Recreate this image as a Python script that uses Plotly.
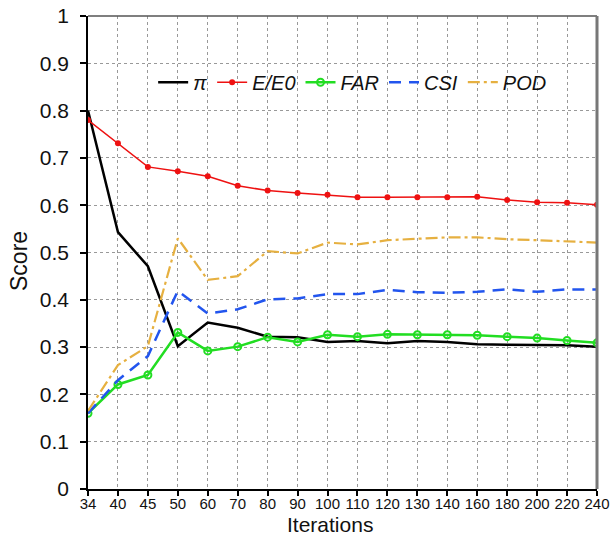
import plotly.graph_objects as go

categories = ["34", "40", "45", "50", "60", "70", "80", "90", "100", "110",
              "120", "130", "140", "160", "180", "200", "220", "240"]
pi_vals = [0.800, 0.543, 0.471, 0.302, 0.352, 0.341, 0.322, 0.321, 0.311, 0.313,
           0.308, 0.313, 0.311, 0.306, 0.305, 0.304, 0.304, 0.301]
ee0_vals = [0.780, 0.731, 0.681, 0.672, 0.661, 0.641, 0.631, 0.626, 0.622, 0.617,
            0.617, 0.617, 0.617, 0.618, 0.611, 0.606, 0.605, 0.601]
far_vals = [0.160, 0.221, 0.241, 0.331, 0.292, 0.301, 0.321, 0.311, 0.326, 0.322,
            0.327, 0.326, 0.326, 0.325, 0.322, 0.319, 0.314, 0.309]
csi_vals = [0.160, 0.230, 0.281, 0.419, 0.371, 0.380, 0.401, 0.403, 0.412, 0.412,
            0.421, 0.416, 0.415, 0.417, 0.422, 0.417, 0.422, 0.422]
pod_vals = [0.165, 0.262, 0.302, 0.530, 0.442, 0.450, 0.503, 0.498, 0.521, 0.517,
            0.526, 0.529, 0.532, 0.532, 0.528, 0.526, 0.523, 0.521]

FONT = "'Liberation Sans', Arial, sans-serif"

fig = go.Figure()
fig.add_trace(go.Scatter(x=categories, y=pi_vals, name="π", mode="lines",
                         line=dict(color="black", width=2.5)))
fig.add_trace(go.Scatter(x=categories, y=ee0_vals, name="E/E0", mode="lines+markers",
                         line=dict(color="#ee1111", width=1.5),
                         marker=dict(symbol="circle", size=6, color="#ee1111")))
fig.add_trace(go.Scatter(x=categories, y=far_vals, name="FAR", mode="lines+markers",
                         line=dict(color="#22dd22", width=2.5),
                         marker=dict(symbol="circle-open", size=7, color="#22dd22",
                                     line=dict(width=2))))
fig.add_trace(go.Scatter(x=categories, y=csi_vals, name="CSI", mode="lines",
                         line=dict(color="#2255ee", width=2.5, dash="12px,8px")))
fig.add_trace(go.Scatter(x=categories, y=pod_vals, name="POD", mode="lines",
                         line=dict(color="#e6b040", width=2.2, dash="12px,4px,3px,4px")))

fig.update_layout(
    width=613, height=536,
    margin=dict(l=88, r=16, t=16, b=47),
    paper_bgcolor="white", plot_bgcolor="white",
    font=dict(family=FONT, color="#111"),
    showlegend=True,
    legend=dict(orientation="h", x=0.128, y=0.86, xanchor="left", yanchor="middle",
                bgcolor="rgba(0,0,0,0)",
                font=dict(size=20, family=FONT, style="italic"),
                itemwidth=30, tracegroupgap=0),
    xaxis=dict(type="category", range=[0, 17], showgrid=True, gridcolor="#999",
               griddash="dot", gridwidth=1, showline=True, linecolor="black", linewidth=1.5,
               ticks="outside", ticklen=5, tickcolor="black", tickwidth=1.5,
               tickfont=dict(size=15), zeroline=False, automargin=False,
               ticklabelstandoff=-5),
    yaxis=dict(range=[0, 1], dtick=0.1, tick0=0, showgrid=True, gridcolor="#999",
               griddash="dot", gridwidth=1, showline=True, linecolor="black", linewidth=1.5,
               ticks="outside", ticklen=6, tickcolor="black", tickwidth=1.5,
               tickfont=dict(size=21), zeroline=False, automargin=False,
               ticklabelstandoff=7),
    shapes=[
        dict(type="line", xref="x domain", yref="y domain", x0=0, x1=1, y0=1, y1=1,
             line=dict(color="#555", width=1.5)),
        dict(type="line", xref="x domain", yref="y domain", x0=1, x1=1, y0=0, y1=1,
             line=dict(color="#777", width=3)),
    ],
    annotations=[
        dict(text="Iterations", xref="paper", yref="paper", x=0.476, y=-0.047,
             xanchor="center", yanchor="top", showarrow=False, font=dict(size=21)),
        dict(text="Score", xref="paper", yref="paper", x=-0.1356, y=0.482,
             xanchor="center", yanchor="middle", textangle=-90, showarrow=False,
             font=dict(size=23)),
    ],
)

fig.write_html("out.html", config={"displayModeBar": False},
               post_script="document.body.style.margin='0';document.body.style.overflow='hidden';")
